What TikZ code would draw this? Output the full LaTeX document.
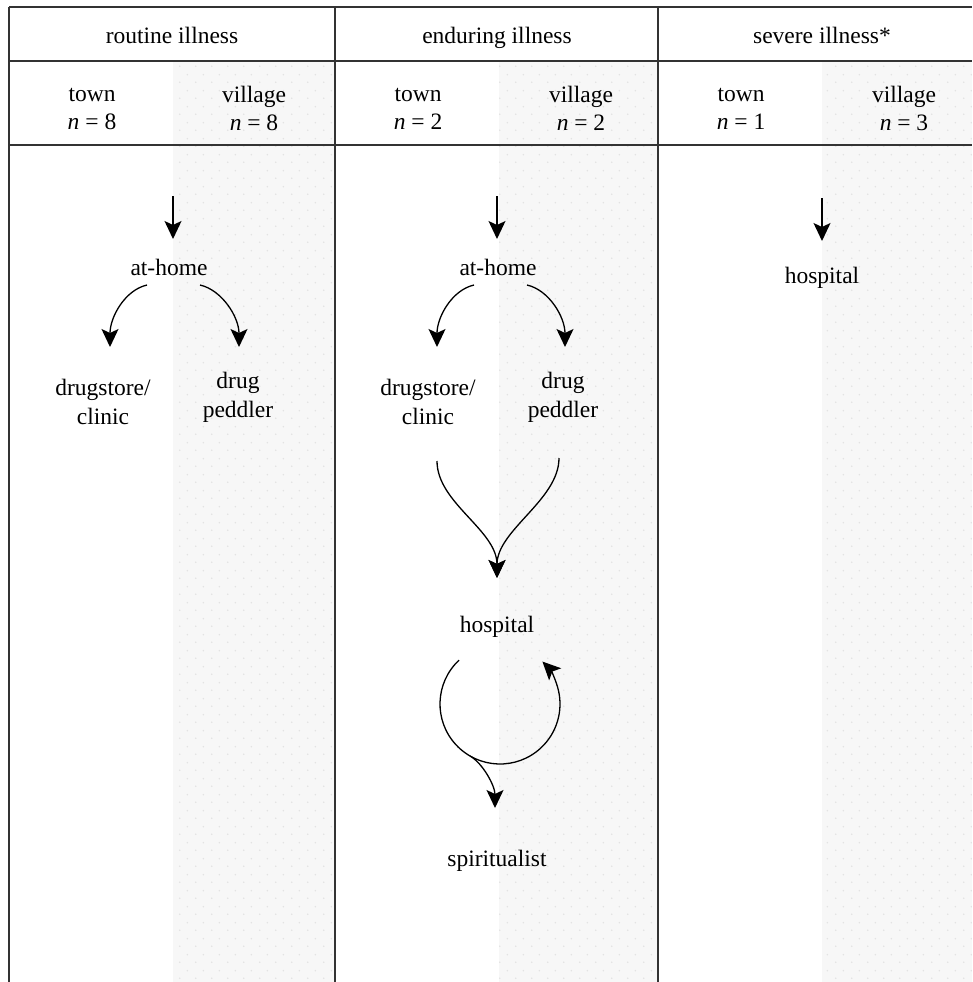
\documentclass[tikz,border=0pt]{standalone}
\usepackage{fontspec}
\setmainfont{Liberation Serif}
\usetikzlibrary{arrows.meta,patterns.meta}
\tikzdeclarepattern{
  name=softdots,
  type=uncolored,
  bottom left={(0pt,0pt)},
  top right={(16pt,16pt)},
  tile size={(16pt,16pt)},
  code={\fill (4pt,4pt) circle (0.9pt); \fill (12pt,12pt) circle (0.9pt);}
}
\tikzset{
  lbl/.style={font=\fontsize{23.5}{29}\selectfont, inner sep=0pt, align=center},
  one/.style={lbl, anchor=base},
  hdr/.style={font=\fontsize{23.5}{28}\selectfont, inner sep=0pt, align=center},
  rule/.style={line width=1.6pt, draw=black!80},
  shade/.style={fill=black!3},
  dots/.style={pattern=softdots, pattern color=black!11},
  tipshape/.tip={Stealth[length=18pt,width=17pt,inset=4pt]},
  arr/.style={line width=1.3pt, -tipshape}
}
\begin{document}
\begin{tikzpicture}[x=1pt,y=1pt]
\useasboundingbox (0,0) rectangle (972,-982);
% shaded village columns
\foreach \a/\b in {173/335, 499/658, 822/972}{
  \fill[shade] (\a,-62) rectangle (\b,-982);
  \fill[dots] (\a,-62) rectangle (\b,-982);
}
% rules
\draw[rule] (9,-7) -- (972,-7);
\draw[rule] (9,-61) -- (972,-61);
\draw[rule] (9,-145) -- (972,-145);
\draw[rule] (9,-7) -- (9,-982);
\draw[rule] (335,-7) -- (335,-982);
\draw[rule] (658,-7) -- (658,-982);
% titles
\node[one] (title1) at (172,-44) {routine illness};
\node[one] (title2) at (497,-44) {enduring illness};
\node[one] (title3) at (822,-44) {severe illness*};
% sub headers
\node[hdr] (t1) at (92,-109) {town\\\textit{n} = 8};
\node[hdr] (v1) at (254,-108) {village\\\textit{n} = 8};
\node[hdr] (t2) at (418,-109) {town\\\textit{n} = 2};
\node[hdr] (v2) at (581,-108) {village\\\textit{n} = 2};
\node[hdr] (t3) at (741,-109) {town\\\textit{n} = 1};
\node[hdr] (v3) at (904,-108) {village\\\textit{n} = 3};
% column 1
\coordinate (s1) at (173,-196);
\node[one] (athome1) at (169,-275) {at-home};
\node[lbl] (dc1) at (103,-402) {drugstore/\\clinic};
\node[lbl] (dp1) at (238,-397) {drug\\peddler};
\draw[arr] (s1) -- ([shift={(4,36)}]athome1.base);
\draw[arr] ([shift={(-22,-10)}]athome1.base) .. controls +(-22,-5) and +(0,30) .. ([shift={(7,55)}]dc1.center);
\draw[arr] ([shift={(31,-10)}]athome1.base) .. controls +(22,-5) and +(0,30) .. ([shift={(1,50)}]dp1.center);
% column 2
\coordinate (s2) at (497,-196);
\node[one] (athome2) at (498,-275) {at-home};
\node[lbl] (dc2) at (428,-402) {drugstore/\\clinic};
\node[lbl] (dp2) at (563,-397) {drug\\peddler};
\node[one] (hosp2) at (497,-632) {hospital};
\node[one] (spir) at (497,-866) {spiritualist};
\draw[arr] (s2) -- ([shift={(-1,36)}]athome2.base);
\draw[arr] ([shift={(-24,-10)}]athome2.base) .. controls +(-22,-5) and +(0,30) .. ([shift={(9,55)}]dc2.center);
\draw[arr] ([shift={(29,-10)}]athome2.base) .. controls +(22,-5) and +(0,30) .. ([shift={(2,50)}]dp2.center);
\draw[arr] ([shift={(9,-59)}]dc2.center) .. controls +(0,-42) and +(0,48) .. ([shift={(0,54)}]hosp2.base);
\draw[arr] ([shift={(-4,-61)}]dp2.center) .. controls +(0,-42) and +(0,48) .. ([shift={(0,54)}]hosp2.base);
\draw[arr] ([shift={(3,-72)}]hosp2.base) ++(133:60) arc[start angle=133, end angle=405, radius=60];
\draw[arr] ([shift={(3,-72)}]hosp2.base) ++(240:60) .. controls +(13,-7.5) and +(0,22) .. ([shift={(-2,58)}]spir.base);
% column 3
\coordinate (s3) at (822,-198);
\node[one] (hosp3) at (822,-283) {hospital};
\draw[arr] (s3) -- ([shift={(0,42)}]hosp3.base);
\end{tikzpicture}
\end{document}
